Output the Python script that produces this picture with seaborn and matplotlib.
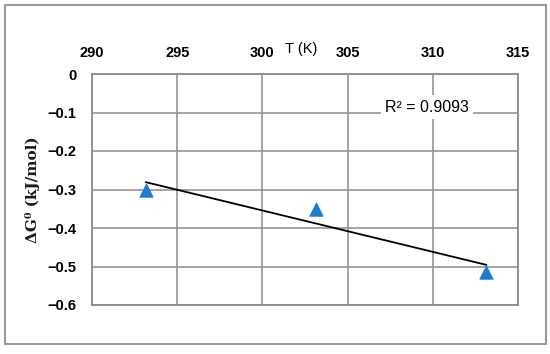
import matplotlib
matplotlib.use("Agg")
import matplotlib.pyplot as plt
import seaborn as sns
import pandas as pd
from matplotlib.patches import Rectangle

# Data
temperature_K = [293.15, 303.15, 313.15]
delta_G = [-0.30, -0.35, -0.515]
x_ticks = [290, 295, 300, 305, 310, 315]
x_tick_labels = ["290", "295", "300", "305", "310", "315"]
y_ticks = [0, -0.1, -0.2, -0.3, -0.4, -0.5, -0.6]
y_tick_labels = ["0", "\u22120.1", "\u22120.2", "\u22120.3", "\u22120.4", "\u22120.5", "\u22120.6"]
r2_text = "R\u00b2 = 0.9093"

df = pd.DataFrame({"T": temperature_K, "dG": delta_G})

sns.set_theme(style="white")
fig = plt.figure(figsize=(5.5, 3.54), dpi=100)
ax = fig.add_axes([92 / 550, 1 - 305 / 354, 426 / 550, 231 / 354])

grid_c = "#8c8c8c"

sns.regplot(data=df, x="T", y="dG", ax=ax, scatter=False, ci=None,
            line_kws=dict(color="black", lw=1.3, zorder=3))
sns.scatterplot(data=df, x="T", y="dG", ax=ax, marker="^", s=95,
                color="#1a7dcf", edgecolor="#1a7dcf", linewidth=0.5, zorder=4)

ax.set_xlim(290, 315)
ax.set_ylim(-0.6, 0)
ax.set_xticks(x_ticks)
ax.set_xticklabels(x_tick_labels, fontfamily="Liberation Sans", fontweight="bold",
                   fontsize=10.5, color="black")
ax.set_yticks(y_ticks)
ax.set_yticklabels(y_tick_labels, fontfamily="Liberation Sans", fontweight="bold",
                   fontsize=10.5, color="black")
ax.xaxis.tick_top()
ax.tick_params(axis="both", length=0)
ax.tick_params(axis="x", pad=10)
ax.tick_params(axis="y", pad=11)

ax.grid(True, color=grid_c, lw=1.1)
ax.set_axisbelow(True)
for sp in ax.spines.values():
    sp.set_visible(True)
    sp.set_color(grid_c)
    sp.set_linewidth(1.3)

ax.xaxis.set_label_position("top")
ax.set_xlabel("T (K)", fontfamily="Liberation Sans", fontsize=10.5, color="black")
ax.xaxis.set_label_coords((301 - 92) / 426, (305 - 53) / 231)
ax.set_ylabel("\u0394G\u2070 (kJ/mol)", fontfamily="DejaVu Serif", fontweight="bold",
              fontsize=11, color="#1a1a1a")
ax.yaxis.set_label_coords((40 - 92) / 426, 0.5)

ax.text((427 - 92) / 426, (305 - 107) / 231, r2_text, transform=ax.transAxes,
        ha="center", va="center",
        fontfamily="Liberation Sans", fontsize=11.5, color="black",
        bbox=dict(facecolor="white", edgecolor="none", pad=3), zorder=5)

fig.patches.append(Rectangle((5 / 550, 1 - 344 / 354), 541 / 550, 339 / 354,
                             transform=fig.transFigure, fill=False,
                             edgecolor="#9a9a9a", lw=1.5))

fig.savefig("out.png", dpi=100, facecolor="white")
